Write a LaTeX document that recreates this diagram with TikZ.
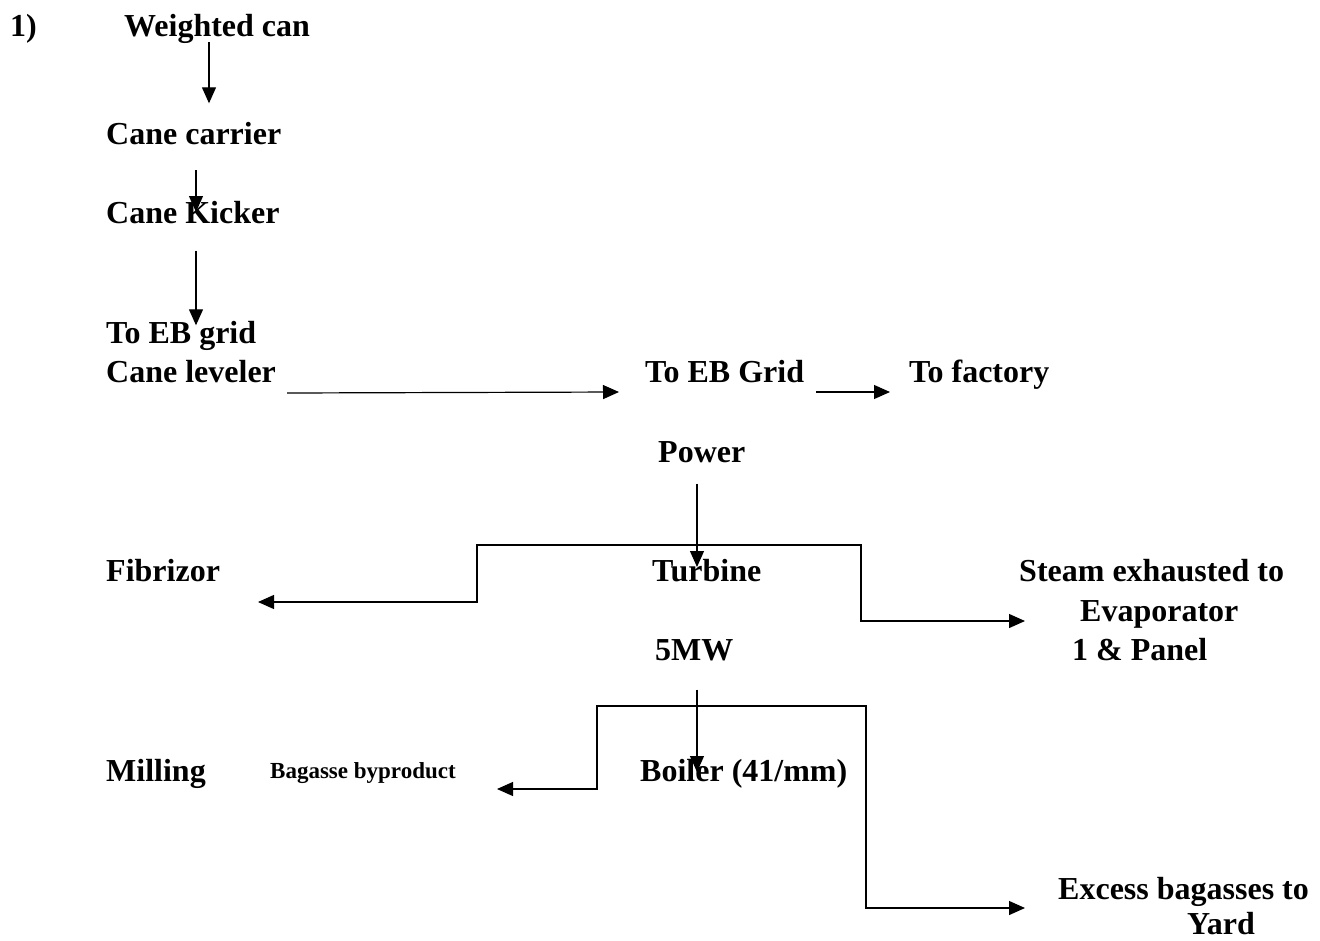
\documentclass[tikz,border=0pt]{standalone}
\usepackage{fontspec}
\setmainfont{Liberation Serif}
\usepackage{tikz}
\usetikzlibrary{arrows.meta}

\tikzset{
  lbl/.style={font=\fontsize{32}{39.5}\selectfont\bfseries,inner sep=0pt,text height=26pt,text depth=4pt,anchor=west},
  small/.style={font=\fontsize{23}{28}\selectfont\bfseries,inner sep=0pt,text height=17pt,text depth=4pt,anchor=west},
  arr/.style={-{Triangle[length=16pt,width=14pt]},line width=1.2pt}
}

\begin{document}
\begin{tikzpicture}[x=1pt,y=-1pt]
\useasboundingbox (0,0) rectangle (1320,940);
% left column
\node[lbl] (num) at (10,25) {1)};
\node[lbl] (wc) at (124,25) {Weighted can};
\node[lbl] (cc) at (106,133) {Cane carrier};
\node[lbl] (ck) at (106,212) {Cane Kicker};
\node[lbl] (teb) at (106,332) {To EB grid};
\node[lbl] (lev) at (106,371) {Cane leveler};
\node[lbl] (fib) at (106,570) {Fibrizor};
\node[lbl] (mil) at (106,770) {Milling};
\node[small] (bag) at (270,772) {Bagasse byproduct};
% middle and right
\node[lbl] (grid) at (645,371) {To EB Grid};
\node[lbl] (fac) at (909,371) {To factory};
\node[lbl] (pow) at (658,451) {Power};
\node[lbl] (tur) at (652,570) {Turbine};
\node[lbl] (mw) at (655,649) {5MW};
\node[lbl] (boil) at (640,770) {Boiler (41/mm)};
\node[lbl] (steam1) at (1019,570) {Steam exhausted to};
\node[lbl] (steam2) at (1080,610) {Evaporator};
\node[lbl] (steam3) at (1072,649) {1 \& Panel};
\node[lbl] (exc1) at (1058,888) {Excess bagasses to};
\node[lbl] (exc2) at (1187,923) {Yard};

\draw[arr,shorten <=2pt,shorten >=14.5pt] ([xshift=85pt]wc.south west) -- ([xshift=103pt]cc.north west);
\draw[arr,shorten <=22pt] ([xshift=90pt]cc.south west) -- ([xshift=90pt]ck.west);
\draw[arr,shorten <=23.5pt,shorten >=-8.5pt] ([xshift=90pt]ck.south west) -- ([xshift=90pt]teb.north west);
\draw[arr] ([xshift=11pt,yshift=-22pt]lev.east) -- ([xshift=-26pt,yshift=-21pt]grid.west);
\draw[arr] ([xshift=12pt,yshift=-21pt]grid.east) -- ([xshift=-19pt,yshift=-21pt]fac.west);
\draw[arr,shorten <=17.5pt] ([xshift=39pt]pow.south west) -- ([xshift=45pt,yshift=3pt]tur.west);
\coordinate (split1) at (697,545);
\draw[arr] (split1) -| ++(-220,57) -- ([xshift=152pt,yshift=-32pt]fib.west);
\draw[arr] (split1) -| ++(164,76) -- ([xshift=-55pt,yshift=-11pt]steam2.west);
\draw[arr,shorten <=25.5pt] ([xshift=42pt]mw.south west) -- ([xshift=57pt,yshift=-2pt]boil.west);
\coordinate (split2) at (697,706);
\draw[arr] (split2) -| ++(-100,83) -- ([xshift=227pt,yshift=-17pt]bag.west);
\draw[arr] (split2) -| ++(169,202) -- ([xshift=-33pt,yshift=-20pt]exc1.west);
\end{tikzpicture}
\end{document}
